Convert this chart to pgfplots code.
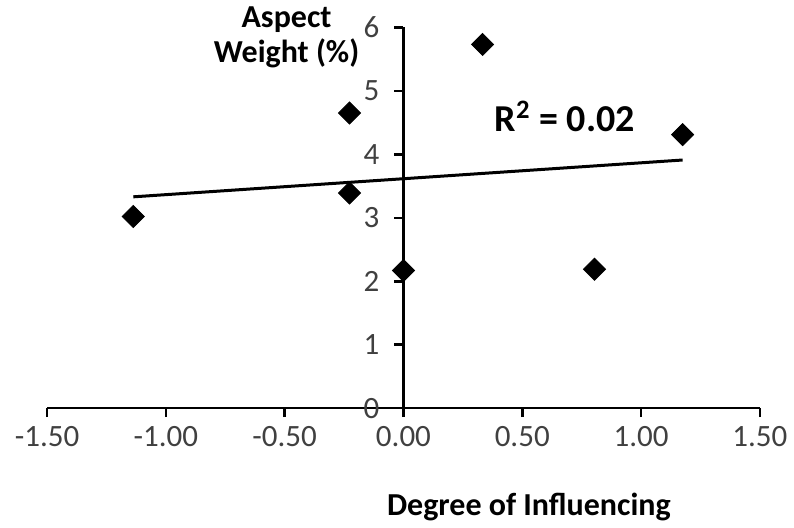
\documentclass[border=0pt]{standalone}
\usepackage{pgfplots}
\pgfplotsset{compat=1.18}
\usepackage{fontspec}
\setmainfont{Carlito}

\begin{document}
\begin{tikzpicture}
\begin{axis}[
    scale only axis,
    width=356.5pt, height=190.5pt,
    axis x line=bottom,
    axis y line=middle,
    axis line style={line width=1.25pt, -},
    xmin=-1.5, xmax=1.5, ymin=0, ymax=6,
    xtick={-1.5,-1,-0.5,0,0.5,1,1.5},
    ytick={0,1,2,3,4,5,6},
    hide obscured x ticks=false,
    hide obscured y ticks=false,
    xtick align=outside,
    ytick align=outside,
    every tick/.style={line width=1.25pt, black},
    major tick length=4.5pt,
    x tick label style={/pgf/number format/fixed, /pgf/number format/fixed zerofill, /pgf/number format/precision=2, /pgf/number format/assume math mode=true},
    y tick label style={/pgf/number format/assume math mode=true},
    ticklabel style={font=\fontsize{15.5}{18}\selectfont, text=black!75},
    xticklabel style={yshift=-1pt},
    yticklabel style={xshift=-4pt},
    xlabel={\textbf{Degree of Influencing}},
    ylabel={\textbf{Aspect}\\\textbf{Weight (\%)}},
    xlabel style={at={(rel axis cs:0.676,-0.26)}, anchor=center, font=\fontsize{16}{18}\selectfont},
    ylabel style={at={(rel axis cs:0.336,0.974)}, anchor=center, rotate=0, align=center, font=\fontsize{16}{17.5}\selectfont},
    clip=false,
]
\path (axis cs:-1.698,-1.843) rectangle (axis cs:1.643,6.41);
\addplot[only marks, mark=square*, mark size=3.9pt, mark options={rotate=45, fill=black, draw=black}]
coordinates {
    (-1.137, 3.02)
    (-0.227, 4.65)
    (-0.227, 3.39)
    (0.000, 2.17)
    (0.333, 5.73)
    (0.804, 2.19)
    (1.175, 4.31)
};
\addplot[black, line width=1.5pt] coordinates {
    (-1.137, 3.33)
    (1.175, 3.91)
};
\node[font=\fontsize{19}{22}\selectfont\bfseries] at (axis cs:0.679,4.60) {R\textsuperscript{2} = 0.02};
\end{axis}
\end{tikzpicture}
\end{document}
